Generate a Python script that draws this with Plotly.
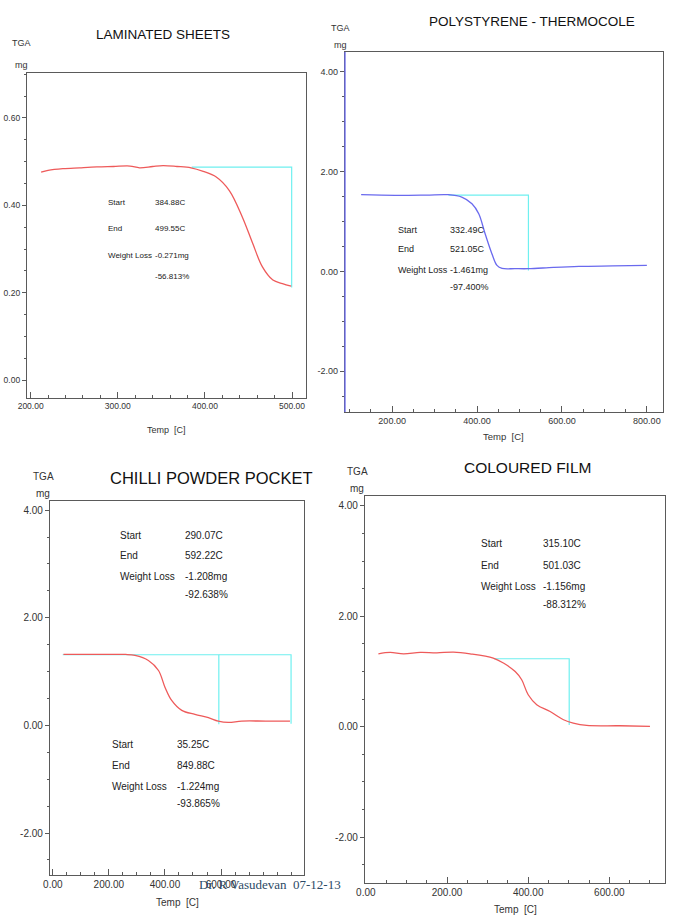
import plotly.graph_objects as go

W, H = 677, 922

# ---------------- data ----------------
titles = ["LAMINATED SHEETS", "POLYSTYRENE - THERMOCOLE", "CHILLI POWDER POCKET", "COLOURED FILM"]

lam_T = [212, 220, 237, 256, 276, 295, 314, 325, 340, 352, 368, 384, 398, 413, 428, 443, 455, 466, 478, 489, 499]
lam_W = [0.476, 0.480, 0.484, 0.486, 0.488, 0.489, 0.490, 0.486, 0.489, 0.491, 0.489, 0.486, 0.478, 0.465,
         0.434, 0.373, 0.312, 0.259, 0.229, 0.221, 0.215]
lam_step_T = [384.88, 499.55, 499.55]
lam_step_W = [0.4876, 0.4876, 0.212]

ps_T = [127, 207, 280, 333, 364, 388, 404, 419, 435, 447, 459, 490, 521, 580, 640, 720, 800]
ps_W = [1.538, 1.525, 1.530, 1.538, 1.490, 1.357, 1.157, 0.756, 0.355, 0.120, 0.060, 0.055, 0.054, 0.080,
        0.100, 0.110, 0.120]
ps_step_T = [332.49, 521.05, 521.05]
ps_step_W = [1.53, 1.53, 0.02]

ch_T = [38, 100, 200, 260, 293, 341, 377, 400, 424, 460, 507, 555, 590, 626, 674, 760, 846]
ch_W = [1.318, 1.320, 1.320, 1.318, 1.300, 1.207, 1.020, 0.711, 0.464, 0.279, 0.204, 0.143, 0.080, 0.056,
        0.080, 0.080, 0.080]
ch_step_T = [35.25, 592.22, 592.22, 592.22, 849.88, 849.88]
ch_step_W = [1.313, 1.313, 0.02, 1.313, 1.313, 0.03]

cf_T = [31, 60, 93, 134, 175, 216, 257, 314, 339, 368, 384, 400, 421, 454, 487, 511, 544, 626, 700]
cf_W = [1.322, 1.346, 1.322, 1.346, 1.340, 1.353, 1.322, 1.244, 1.154, 1.000, 0.851, 0.580, 0.400, 0.277,
        0.127, 0.067, 0.024, 0.018, 0.006]
cf_step_T = [315.10, 501.03, 501.03]
cf_step_W = [1.232, 1.232, 0.03]

row_labels = ["Start", "End", "Weight Loss", ""]
lam_vals = ["384.88C", "499.55C", "-0.271mg", "-56.813%"]
ps_vals = ["332.49C", "521.05C", "-1.461mg", "-97.400%"]
ch_vals_a = ["290.07C", "592.22C", "-1.208mg", "-92.638%"]
ch_vals_b = ["35.25C", "849.88C", "-1.224mg", "-93.865%"]
cf_vals = ["315.10C", "501.03C", "-1.156mg", "-88.312%"]

# ---------------- styling ----------------
FONT = "Liberation Sans, Arial, sans-serif"
RED = "#ee5a5a"
BLUE = "#6a6aee"
CYAN = "#6ff0f0"
AXC = "#5a5a5a"


def px2x(p):
    return p / W


def px2y(p):
    return 1 - p / H


panels = [
    dict(dom=(27, 306, 73, 398), xr=[195.8, 516], yr=[-0.041, 0.703],
         xt=[200, 300, 400, 500], yt=[0.0, 0.2, 0.4, 0.6], mx=20, my=0.05, fs=8.5),
    dict(dom=(345, 663, 52, 412), xr=[89, 838], yr=[-2.82, 4.40],
         xt=[200, 400, 600, 800], yt=[-2, 0, 2, 4], mx=50, my=0.5, fs=9),
    dict(dom=(50, 304, 501, 875), xr=[-10, 896], yr=[-2.78, 4.17],
         xt=[0, 200, 400, 600], yt=[-2, 0, 2, 4], mx=50, my=0.5, fs=10),
    dict(dom=(365, 665, 496, 883), xr=[-2, 737], yr=[-2.83, 4.18],
         xt=[0, 200, 400, 600], yt=[-2, 0, 2, 4], mx=50, my=0.5, fs=10),
]

fig = go.Figure()

curves = [(lam_T, lam_W, RED, lam_step_T, lam_step_W),
          (ps_T, ps_W, BLUE, ps_step_T, ps_step_W),
          (ch_T, ch_W, RED, ch_step_T, ch_step_W),
          (cf_T, cf_W, RED, cf_step_T, cf_step_W)]

for i, (t, w, col, st, sw) in enumerate(curves):
    sfx = "" if i == 0 else str(i + 1)
    segs = [(st[:3], sw[:3]), (st[3:], sw[3:])] if len(st) > 3 else [(st, sw)]
    for sx, sy in segs:
        fig.add_trace(go.Scatter(x=sx, y=sy, mode="lines", line=dict(color=CYAN, width=1.2),
                                 xaxis="x" + sfx, yaxis="y" + sfx, showlegend=False, hoverinfo="skip"))
    fig.add_trace(go.Scatter(x=t, y=w, mode="lines", line=dict(color=col, width=1.3, shape="spline"),
                             xaxis="x" + sfx, yaxis="y" + sfx, showlegend=False))

layout = dict(width=W, height=H, margin=dict(l=0, r=0, t=0, b=0), template="none",
              paper_bgcolor="white", plot_bgcolor="white",
              font=dict(family=FONT, color="#222"))

for i, p in enumerate(panels):
    sfx = "" if i == 0 else str(i + 1)
    l, r, t, b = p["dom"]
    layout["xaxis" + sfx] = dict(
        domain=[px2x(l), px2x(r)], range=p["xr"], anchor="y" + sfx, automargin=False,
        tickvals=p["xt"], ticktext=[f"{v:.2f}" for v in p["xt"]],
        ticks="inside", ticklen=6, tickcolor=AXC, tickwidth=1,
        minor=dict(dtick=p["mx"], tick0=0, ticks="inside", ticklen=3, tickcolor=AXC),
        showline=True, linecolor=AXC, linewidth=1.3, mirror=True,
        showgrid=False, zeroline=False, tickfont=dict(size=p["fs"], color="#333"))
    layout["yaxis" + sfx] = dict(
        domain=[px2y(b), px2y(t)], range=p["yr"], anchor="x" + sfx, automargin=False,
        tickvals=p["yt"], ticktext=[f"{v:.2f}" for v in p["yt"]],
        ticks="outside", ticklen=4, tickcolor=AXC, tickwidth=1,
        minor=dict(dtick=p["my"], tick0=0, ticks="outside", ticklen=2, tickcolor=AXC),
        showline=True, linecolor=AXC, linewidth=1.3, mirror=True,
        showgrid=False, zeroline=False, tickfont=dict(size=p["fs"], color="#333"))

fig.update_layout(**layout)
# polystyrene panel has a blue left axis line
fig.add_shape(type="line", xref="paper", yref="paper", x0=px2x(345), x1=px2x(345), y0=px2y(412), y1=px2y(52),
              line=dict(color=BLUE, width=1.3))

ann = []
title_pos = [(163, 35, 13.5), (532, 21, 13.5), (212, 478, 16.5), (527, 467, 15.5)]
for txt, (x, y, s) in zip(titles, title_pos):
    ann.append(dict(text=txt, x=px2x(x), y=px2y(y), xref="paper", yref="paper", showarrow=False,
                    xanchor="center", yanchor="middle", font=dict(size=s, color="#111")))

tga_pos = [(22, 43, 65, 9), (340, 28, 45, 9), (43, 476, 493, 10), (357, 471, 488, 10)]
for x, y1, y2, s in tga_pos:
    ann.append(dict(text="TGA", x=px2x(x), y=px2y(y1), xref="paper", yref="paper", showarrow=False,
                    xanchor="center", yanchor="middle", font=dict(size=s, color="#333")))
    ann.append(dict(text="mg", x=px2x(x), y=px2y(y2), xref="paper", yref="paper", showarrow=False,
                    xanchor="center", yanchor="middle", font=dict(size=s, color="#333")))

temp_pos = [(166, 430, 9), (503, 436, 9.5), (177, 902, 10), (515, 909, 10)]
for x, y, s in temp_pos:
    ann.append(dict(text="Temp  [C]", x=px2x(x), y=px2y(y), xref="paper", yref="paper", showarrow=False,
                    xanchor="center", yanchor="middle", font=dict(size=s, color="#333")))

blocks = [
    ("", 287, 340, [0.407, 0.347, 0.286, 0.238], lam_vals, 8),
    ("2", 209, 332, [0.84, 0.44, 0.02, -0.32], ps_vals, 9),
    ("3", 233, 465, [3.53, 3.16, 2.77, 2.43], ch_vals_a, 10),
    ("3", 204, 436, [-0.35, -0.74, -1.13, -1.45], ch_vals_b, 10),
    ("4", 279, 432, [3.32, 2.93, 2.54, 2.21], cf_vals, 10),
]
for sfx, lx, vx, ys, vals, s in blocks:
    for lab, val, yv in zip(row_labels, vals, ys):
        if lab:
            ann.append(dict(text=lab, x=lx, y=yv, xref="x" + sfx, yref="y" + sfx, showarrow=False,
                            xanchor="left", yanchor="middle", font=dict(size=s, color="#222")))
        ann.append(dict(text=val, x=vx, y=yv, xref="x" + sfx, yref="y" + sfx, showarrow=False,
                        xanchor="left", yanchor="middle", font=dict(size=s, color="#222")))

ann.append(dict(text="Dr. R Vasudevan  07-12-13", x=px2x(270), y=px2y(884), xref="paper", yref="paper",
                showarrow=False, xanchor="center", yanchor="middle",
                font=dict(family="Liberation Serif, Times New Roman, serif", size=13, color="#2c4a66")))

fig.update_layout(annotations=ann)
fig.write_html("out.html")
